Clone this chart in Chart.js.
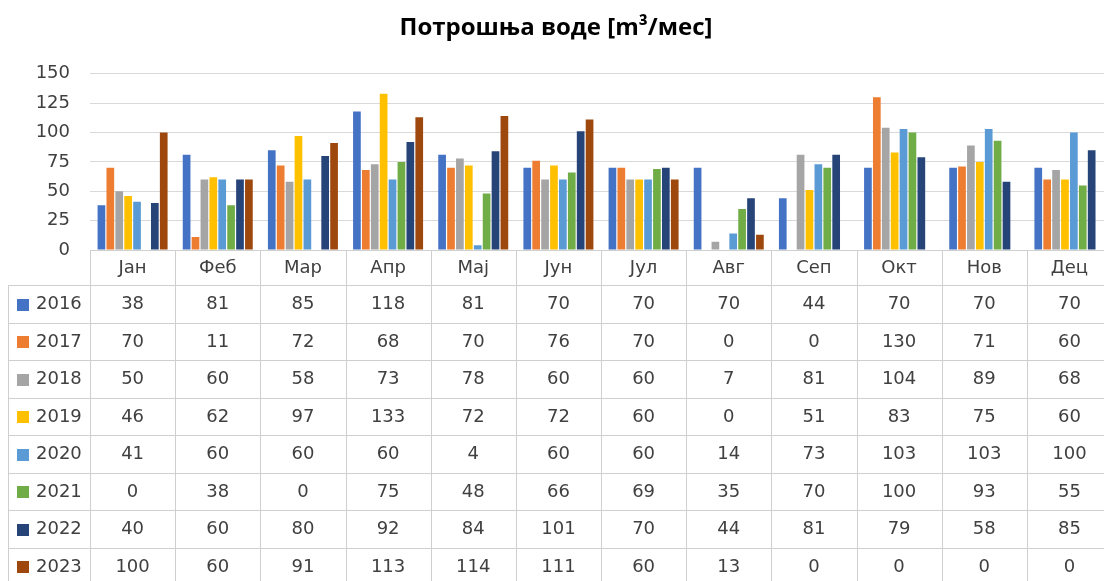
<!DOCTYPE html>
<html>
<head>
<meta charset="utf-8">
<script src="https://cdn.jsdelivr.net/npm/chart.js@4.4.1/dist/chart.umd.min.js"></script>
<style>
  html, body { margin: 0; padding: 0; background: #ffffff; overflow: hidden; }
  #wrap { width: 1104px; height: 581px; overflow: hidden; position: relative; }
  canvas { display: block; }
</style>
</head>
<body>
<div id="wrap"><canvas id="c" width="1112" height="581"></canvas></div>
<script>
const titleText = 'Потрошња воде [m³/мес]';
const categories = ['Јан','Феб','Мар','Апр','Мај','Јун','Јул','Авг','Сеп','Окт','Нов','Дец'];
const years = ['2016','2017','2018','2019','2020','2021','2022','2023'];
const v2016 = [38, 81, 85, 118, 81, 70, 70, 70, 44, 70, 70, 70];
const v2017 = [70, 11, 72, 68, 70, 76, 70, 0, 0, 130, 71, 60];
const v2018 = [50, 60, 58, 73, 78, 60, 60, 7, 81, 104, 89, 68];
const v2019 = [46, 62, 97, 133, 72, 72, 60, 0, 51, 83, 75, 60];
const v2020 = [41, 60, 60, 60, 4, 60, 60, 14, 73, 103, 103, 100];
const v2021 = [0, 38, 0, 75, 48, 66, 69, 35, 70, 100, 93, 55];
const v2022 = [40, 60, 80, 92, 84, 101, 70, 44, 81, 79, 58, 85];
const v2023 = [100, 60, 91, 113, 114, 111, 60, 13, 0, 0, 0, 0];
const seriesValues = [v2016, v2017, v2018, v2019, v2020, v2021, v2022, v2023];
const seriesColors = ['#4472C4','#ED7D31','#A5A5A5','#FFC000','#5B9BD5','#70AD47','#264478','#9E480E'];
const yMin = 0, yMax = 150, yStep = 25;

const FONT = '"DejaVu Sans", "Open Sans", sans-serif';
const TITLE_FONT = '"Open Sans", "DejaVu Sans", sans-serif';
const GRID = '#d9d9d9';
const TEXT = '#404040';

const datasets = years.map((y, i) => ({
  label: y,
  data: seriesValues[i],
  backgroundColor: seriesColors[i],
  borderWidth: 0,
  categoryPercentage: 0.836,
  barPercentage: 0.865
}));

const HEADER_H = 35;
const ROW_H = 37.5;
const LEFT_COL_X = 8;

const tablePlugin = {
  id: 'dataTable',
  afterDraw(chart) {
    const ctx = chart.ctx;
    const xs = chart.scales.x;
    const area = chart.chartArea;
    const top = area.bottom;
    const n = categories.length;
    const colW = (area.right - area.left) / n;
    const bottom = chart.height;
    ctx.save();
    ctx.strokeStyle = '#cfcfcf';
    ctx.lineWidth = 1;
    ctx.beginPath();
    ctx.moveTo(area.left, top + 0.5);
    ctx.lineTo(area.right, top + 0.5);
    for (let r = 0; r <= years.length; r++) {
      const y = Math.round(top + HEADER_H + r * ROW_H) + 0.5;
      ctx.moveTo(LEFT_COL_X, y);
      ctx.lineTo(area.right, y);
    }
    for (let k = 0; k <= n; k++) {
      const x = Math.round(area.left + k * colW) + 0.5;
      ctx.moveTo(x, top);
      ctx.lineTo(x, bottom);
    }
    ctx.moveTo(LEFT_COL_X + 0.5, top + HEADER_H);
    ctx.lineTo(LEFT_COL_X + 0.5, bottom);
    ctx.stroke();

    ctx.font = '18px ' + FONT;
    ctx.fillStyle = TEXT;
    ctx.textAlign = 'center';
    ctx.textBaseline = 'middle';
    for (let i = 0; i < n; i++) {
      const cx = xs.getPixelForValue(i);
      ctx.fillText(categories[i], cx, top + HEADER_H / 2 + 1);
    }
    for (let r = 0; r < years.length; r++) {
      const cy = top + HEADER_H + r * ROW_H + ROW_H / 2 + 1;
      ctx.fillStyle = seriesColors[r];
      ctx.fillRect(17, Math.round(cy - 6), 12, 12);
      ctx.fillStyle = TEXT;
      ctx.textAlign = 'left';
      ctx.fillText(years[r], 36, cy);
      ctx.textAlign = 'center';
      for (let i = 0; i < n; i++) {
        const cx = xs.getPixelForValue(i);
        ctx.fillText(String(seriesValues[r][i]), cx, cy);
      }
    }
    ctx.restore();
  }
};

new Chart(document.getElementById('c'), {
  type: 'bar',
  data: { labels: categories, datasets: datasets },
  options: {
    responsive: false,
    animation: false,
    layout: { padding: { left: 0, right: 0, top: 0, bottom: 331 } },
    plugins: {
      legend: { display: false },
      tooltip: { enabled: false },
      title: {
        display: true,
        text: titleText,
        color: '#000000',
        font: { family: TITLE_FONT, size: 24, weight: 'bold', lineHeight: 1.2 },
        padding: { top: 14, bottom: 31 }
      }
    },
    scales: {
      x: {
        display: false,
        offset: true
      },
      y: {
        min: yMin,
        max: yMax,
        ticks: {
          stepSize: yStep,
          padding: 20,
          color: TEXT,
          font: { family: FONT, size: 18 }
        },
        grid: { color: GRID, lineWidth: 1, drawTicks: false },
        border: { display: false },
        afterFit(scale) { scale.width = 90; }
      }
    }
  },
  plugins: [tablePlugin]
});
</script>
</body>
</html>
